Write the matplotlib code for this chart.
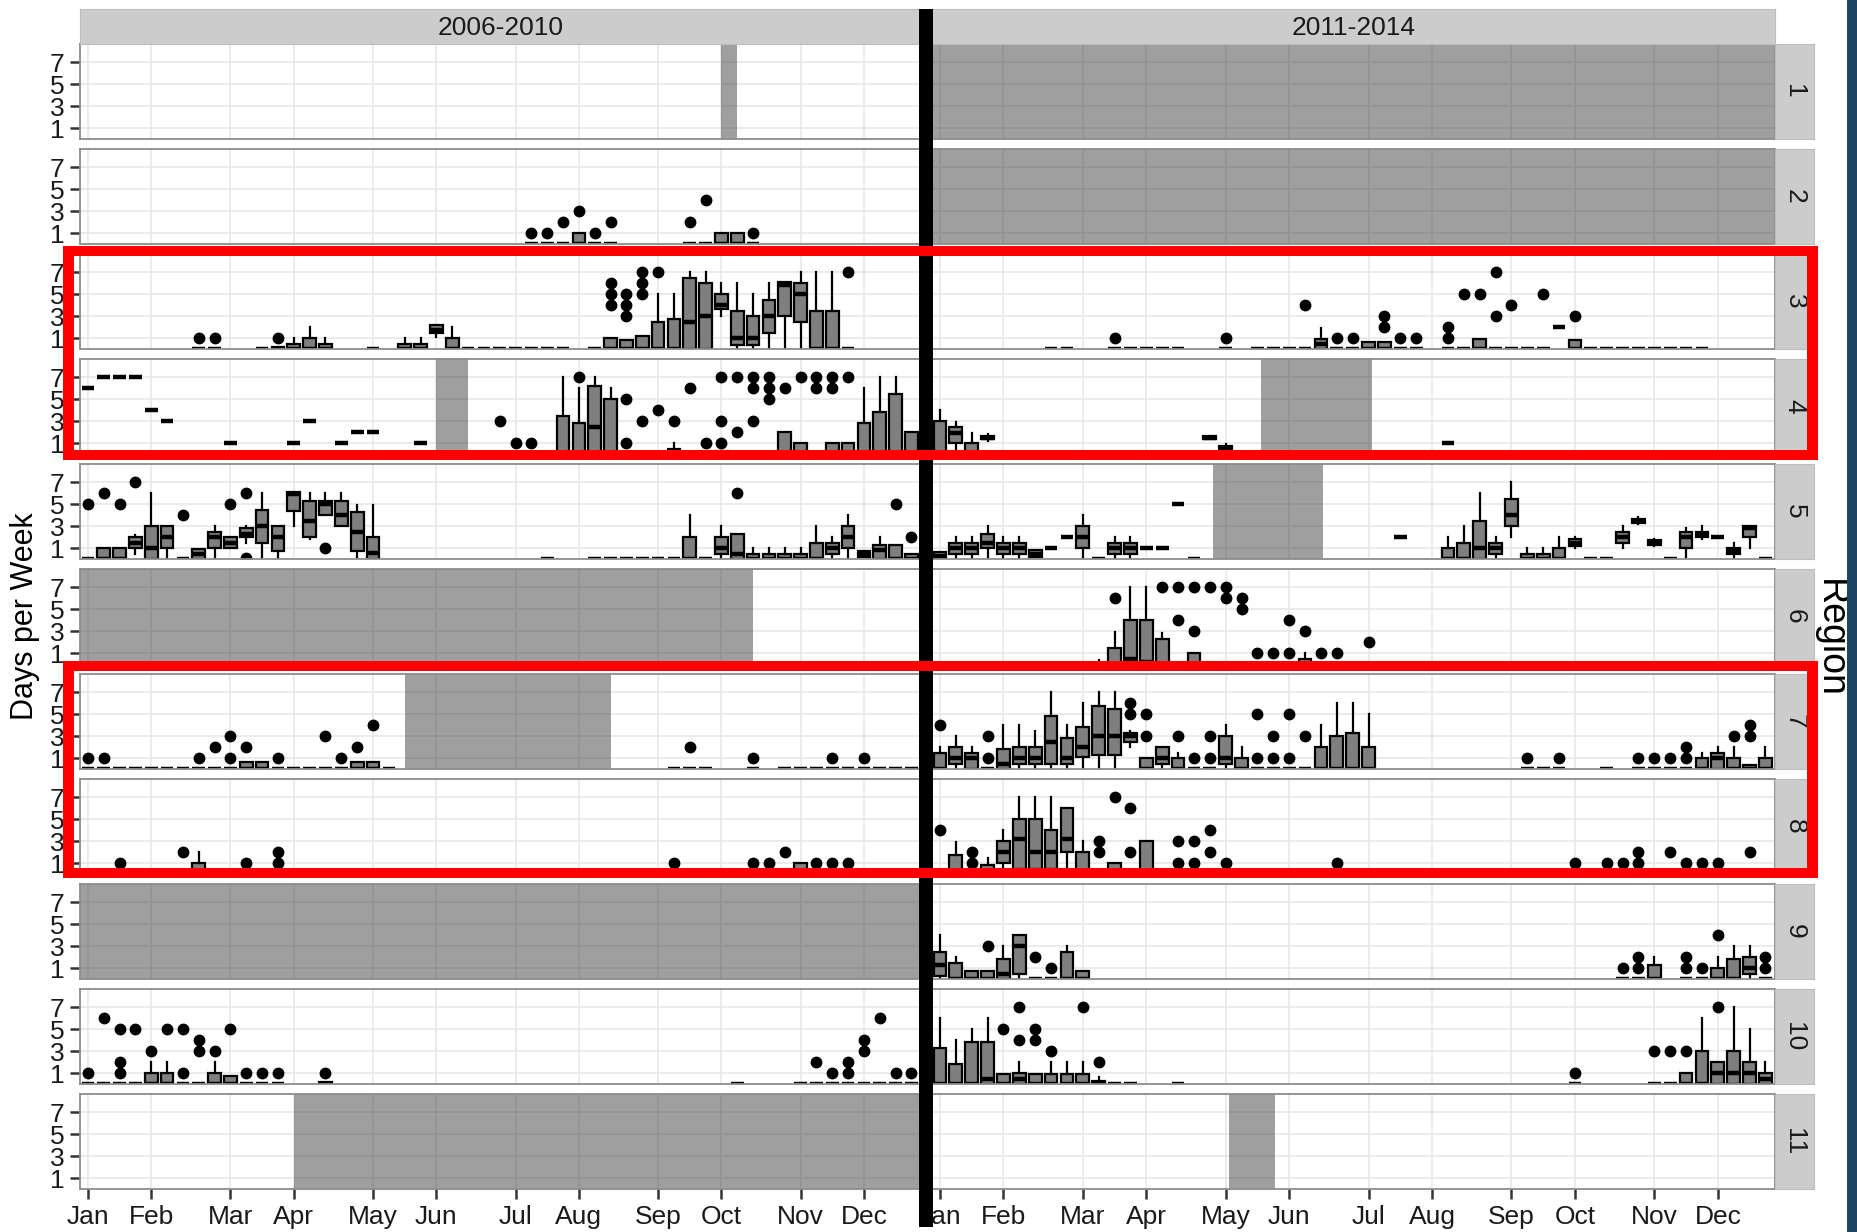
import matplotlib
matplotlib.use('Agg')
import matplotlib.pyplot as plt
from matplotlib.patches import Rectangle

plt.rcParams['font.family'] = ['Liberation Sans', 'DejaVu Sans']

periods = ['2006-2010', '2011-2014']
regions = list(range(1, 12))
month_labels = ['Jan', 'Feb', 'Mar', 'Apr', 'May', 'Jun',
                'Jul', 'Aug', 'Sep', 'Oct', 'Nov', 'Dec']
month_weeks = [1, 5, 10, 14, 19, 23, 28, 32, 37, 41, 46, 50]
day_ticks = [1, 3, 5, 7]

# weeks with no monitoring, shaded: (region, from week, to week)
gaps_early = [(1, 41, 42), (4, 23, 25), (6, 0.5, 43), (7, 21, 34),
              (9, 0.5, 53.6), (11, 14, 53.6)]
gaps_late = [(1, 0.5, 53.6), (2, 0.5, 53.6), (4, 21.2, 28.2),
             (5, 18.2, 25.1), (11, 19.2, 22.1)]

# weekly boxplot summaries: (week, low whisker, q1, median, q3, high whisker)
# weeks where every site reported 0 days are listed separately,
# outliers as (week, days)

# ---- 2006-2010 ----
early_r2_zero = [29, 30, 31, 33, 34, 39, 40, 43]
early_r2_box = [(32, 0, 0, 0, 1, 1), (41, 0, 0, 0, 1, 1), (42, 0, 0, 0, 1, 1)]
early_r2_out = [(29, 1), (30, 1), (31, 2), (32, 3), (33, 1), (34, 2),
                (39, 2), (40, 4), (43, 1)]

early_r3_zero = [8, 9, 12, 19, 25, 26, 27, 28, 29, 30, 31, 33, 49]
early_r3_box = [(13, 0, 0, 0, 0.2, 0.2), (14, 0, 0, 0, 0.5, 1), (15, 0, 0, 0, 1, 2),
                (16, 0, 0, 0, 0.5, 1), (21, 0, 0, 0, 0.5, 1), (22, 0, 0, 0, 0.5, 1),
                (23, 1.1, 1.5, 1.75, 2.2, 2.2), (24, 0, 0, 0, 1, 2),
                (34, 0, 0, 0, 1, 1), (35, 0, 0, 0, 0.8, 0.8), (36, 0, 0, 0, 1.2, 1.2),
                (37, 0, 0, 0, 2.5, 5), (38, 0, 0, 0, 2.7, 5), (39, 0, 0, 2.5, 6.5, 7),
                (40, 0, 0, 3, 6, 7), (41, 3, 3.6, 4, 5, 6), (42, 0, 0.4, 1, 3.5, 6),
                (43, 0, 0.4, 1, 3, 5), (44, 0, 1.5, 3, 4.5, 6), (45, 0, 3, 5.8, 6.1, 6.1),
                (46, 0, 2.5, 5, 6, 7), (47, 0, 0, 0, 3.5, 7), (48, 0, 0, 0, 3.5, 7)]
early_r3_out = [(8, 1), (9, 1), (13, 1), (34, 4), (34, 5), (34, 6), (35, 3), (35, 4),
                (35, 5), (36, 5), (36, 6), (36, 7), (37, 7), (49, 7)]

early_r4_zero = [27, 28, 29, 35, 36, 37, 39, 40, 42, 43, 44, 47]
early_r4_box = [(1, 6, 6, 6, 6, 6), (2, 7, 7, 7, 7, 7), (3, 7, 7, 7, 7, 7),
                (4, 7, 7, 7, 7, 7), (5, 4, 4, 4, 4, 4), (6, 3, 3, 3, 3, 3),
                (10, 1, 1, 1, 1, 1), (14, 1, 1, 1, 1, 1), (15, 3, 3, 3, 3, 3),
                (17, 1, 1, 1, 1, 1), (18, 2, 2, 2, 2, 2), (19, 2, 2, 2, 2, 2),
                (22, 1, 1, 1, 1, 1),
                (31, 0, 0, 0, 3.5, 7), (32, 0, 0, 0, 2.8, 6), (33, 0, 0, 2.5, 6.2, 7),
                (34, 0, 0, 0, 5, 6), (38, 0, 0, 0, 0.5, 1), (41, 0, 0, 0, 0.3, 0.3),
                (45, 0, 0, 0, 2, 2), (46, 0, 0, 0, 1, 1), (48, 0, 0, 0, 1, 1),
                (49, 0, 0, 0, 1, 1), (50, 0, 0, 0, 2.8, 6), (51, 0, 0, 0, 3.8, 7),
                (52, 0, 0, 0, 5.5, 7), (53, 0, 0, 0, 2, 2)]
early_r4_out = [(27, 3), (28, 1), (29, 1), (32, 7), (35, 5), (35, 1), (36, 3), (37, 4),
                (38, 3), (39, 6), (40, 1), (41, 7), (41, 3), (41, 1), (42, 7), (42, 2),
                (43, 7), (43, 6), (43, 3), (44, 7), (44, 6), (44, 5), (45, 6), (46, 7),
                (47, 7), (47, 6), (48, 7), (48, 6), (49, 7)]

early_r5_zero = [1, 7, 30, 33, 34, 35, 36, 37, 38, 40]
early_r5_box = [(2, 0, 0, 0, 1, 1), (3, 0, 0, 0, 1, 1), (4, 0.5, 1, 1.5, 2, 2.2),
                (5, 0, 0, 1, 3, 6), (6, 0, 1, 2, 3, 3), (8, 0, 0, 0.5, 0.9, 0.9),
                (9, 0, 1, 2, 2.5, 3), (10, 1, 1, 1.5, 2, 2), (11, 1.5, 2, 2.3, 2.8, 3),
                (12, 0, 1.5, 3, 4.5, 6), (13, 0, 0.7, 2, 3, 3), (14, 3, 4.4, 5.9, 6.1, 6.1),
                (15, 1.8, 2, 3.5, 5.3, 6), (16, 4, 4, 5, 5.3, 6), (17, 3, 3, 4, 5.3, 6),
                (18, 0, 0.7, 2.5, 4.3, 4.9), (19, 0, 0, 0.55, 2, 4.9),
                (39, 0, 0, 0, 2, 4), (41, 0, 0.5, 1, 2, 3), (42, 0, 0, 0.5, 2.3, 2.3),
                (43, 0, 0, 0, 0.5, 1), (44, 0, 0, 0, 0.5, 1), (45, 0, 0, 0, 0.5, 1),
                (46, 0, 0, 0, 0.5, 1), (47, 0, 0, 0, 1.5, 3), (48, 0, 0.5, 1, 1.5, 2),
                (49, 0, 1, 2, 3, 4), (50, 0.2, 0.2, 0.5, 0.7, 0.7), (51, 0, 0, 0.8, 1.3, 2),
                (52, 0, 0, 0, 1.3, 1.3), (53, 0, 0, 0, 0.5, 0.5)]
early_r5_out = [(1, 5), (2, 6), (3, 5), (4, 7), (7, 4), (10, 5), (11, 6), (11, 0.1),
                (16, 1), (42, 6), (52, 5), (53, 2)]

early_r7_zero = [1, 2, 3, 4, 5, 6, 7, 8, 9, 10, 13, 14, 15, 16, 17, 20, 38, 39, 40,
                 43, 45, 46, 47, 48, 49, 50, 51, 52, 53]
early_r7_box = [(11, 0, 0, 0, 0.6, 0.6), (12, 0, 0, 0, 0.6, 0.6),
                (18, 0, 0, 0, 0.6, 0.6), (19, 0, 0, 0, 0.6, 0.6)]
early_r7_out = [(1, 1), (2, 1), (8, 1), (9, 2), (10, 3), (10, 1), (11, 2), (13, 1),
                (16, 3), (17, 1), (18, 2), (19, 4), (39, 2), (43, 1), (48, 1), (50, 1)]

early_r8_zero = [3, 7, 11, 13, 38, 43, 44, 45, 47, 48, 49]
early_r8_box = [(8, 0, 0, 0, 1, 2), (46, 0, 0, 0, 1, 1)]
early_r8_out = [(3, 1), (7, 2), (11, 1), (13, 1), (13, 2), (38, 1), (43, 1), (44, 1),
                (45, 2), (47, 1), (48, 1), (49, 1)]

early_r10_zero = [1, 2, 3, 4, 7, 8, 11, 12, 13, 42, 46, 47, 48, 49, 50, 51, 52, 53]
early_r10_box = [(5, 0, 0, 0, 1, 2), (6, 0, 0, 0, 1, 2), (9, 0, 0, 0, 1, 2),
                 (10, 0, 0, 0, 0.7, 0.7), (16, 0, 0, 0, 0.2, 0.2)]
early_r10_out = [(1, 1), (2, 6), (3, 5), (3, 2), (3, 1), (4, 5), (5, 3), (6, 5), (7, 5),
                 (7, 1), (8, 4), (8, 3), (9, 3), (10, 5), (11, 1), (12, 1), (13, 1),
                 (16, 1), (47, 2), (48, 1), (49, 2), (49, 1), (50, 4), (50, 3), (51, 6),
                 (52, 1), (53, 1)]

# ---- 2011-2014 ----
late_r3_zero = [8, 9, 12, 13, 14, 15, 16, 19, 21, 22, 23, 24, 26, 27, 30, 31, 33,
                34, 36, 37, 38, 39, 42, 43, 44, 45, 46, 47, 48, 49]
late_r3_box = [(25, 0, 0, 0.5, 0.9, 1.9), (28, 0, 0, 0, 0.6, 0.6), (29, 0, 0, 0, 0.6, 0.6),
               (35, 0, 0, 0, 0.9, 0.9), (40, 2, 2, 2, 2, 2), (41, 0, 0, 0, 0.8, 0.8)]
late_r3_out = [(12, 1), (19, 1), (24, 4), (26, 1), (27, 1), (29, 2), (29, 3), (30, 1),
               (31, 1), (33, 1), (33, 2), (34, 5), (35, 5), (36, 7), (36, 3), (37, 4),
               (39, 5), (41, 3)]

late_r4_zero = []
late_r4_box = [(1, 0, 0, 0, 3, 4), (2, 0, 1, 1.9, 2.5, 2.9), (3, 0, 0, 0, 1, 1.9),
               (4, 1.2, 1.35, 1.5, 1.6, 1.8), (18, 1.4, 1.4, 1.5, 1.6, 1.6),
               (19, 0.3, 0.3, 0.5, 0.7, 0.9), (33, 1, 1, 1, 1, 1)]
late_r4_out = []

late_r5_zero = [11, 17, 42, 43, 47, 53]
late_r5_box = [(1, 0, 0, 0.3, 0.6, 0.6), (2, 0, 0.5, 1, 1.5, 2), (3, 0, 0.5, 1, 1.5, 2),
               (4, 0, 1, 1.5, 2.3, 3), (5, 0, 0.5, 1, 1.5, 2), (6, 0, 0.5, 1, 1.5, 2),
               (7, 0.2, 0.2, 0.5, 0.8, 0.8), (8, 1, 1, 1, 1, 1), (9, 2, 2, 2, 2, 2),
               (10, 0, 1, 2, 3, 4), (12, 0, 0.5, 1, 1.5, 2), (13, 0, 0.5, 1, 1.5, 2),
               (14, 1, 1, 1, 1, 1), (15, 1, 1, 1, 1, 1), (16, 5, 5, 5, 5, 5),
               (30, 2, 2, 2, 2, 2), (33, 0, 0, 0, 1, 2), (34, 0, 0, 0, 1.5, 3),
               (35, 0, 0, 1, 3.5, 6), (36, 0, 0.5, 1, 1.5, 2), (37, 2, 3, 4, 5.5, 7),
               (38, 0, 0, 0, 0.5, 1), (39, 0, 0, 0, 0.5, 1), (40, 0, 0, 0, 1, 2),
               (41, 1, 1.2, 1.5, 1.8, 2), (44, 1, 1.5, 2, 2.5, 3),
               (45, 3.2, 3.3, 3.5, 3.6, 3.8), (46, 1.2, 1.3, 1.5, 1.7, 1.8),
               (48, 0, 1, 2, 2.5, 2.8), (49, 1.8, 2, 2.2, 2.5, 3), (50, 2, 2, 2, 2, 2),
               (51, 0, 0.5, 0.7, 1, 1.5), (52, 1, 2, 2.8, 3, 3)]
late_r5_out = []

late_r6_zero = [16, 18, 19, 20, 21, 22, 23, 25, 26, 28]
late_r6_box = [(11, 0, 0, 0, 0, 0.4), (12, 0, 0, 0, 1.5, 2.9), (13, 0, 0, 0.5, 4, 7),
               (14, 0, 0, 0.2, 4, 7), (15, 0, 0, 0, 2.3, 2.8), (17, 0, 0, 0, 1, 1),
               (24, 0, 0, 0, 0.5, 1)]
late_r6_out = [(12, 6), (15, 7), (16, 7), (16, 4), (17, 7), (17, 3), (18, 7), (19, 7),
               (19, 6), (20, 6), (20, 5), (21, 1), (22, 1), (23, 1), (23, 4), (24, 3),
               (25, 1), (26, 1), (28, 2)]

late_r7_zero = [4, 17, 18, 21, 22, 23, 24, 38, 39, 40, 43, 45, 46, 47, 48]
late_r7_box = [(1, 0, 0, 0, 1.5, 2), (2, 0, 0.5, 1, 2, 3), (3, 0, 0, 1, 1.5, 2),
               (5, 0, 0, 0.5, 1.8, 4), (6, 0, 0.5, 1, 2, 4), (7, 0, 0.5, 1, 2, 3.5),
               (8, 0, 0.5, 2.5, 4.8, 7), (9, 0, 0.5, 1, 2.8, 4), (10, 0, 1.1, 2, 3.8, 6),
               (11, 0, 1.3, 3, 5.75, 7), (12, 0, 1.3, 3, 5.5, 7), (13, 2, 2.5, 3, 3.3, 3.5),
               (14, 0, 0, 0, 1, 1), (15, 0, 0.5, 1, 2, 2), (16, 0, 0, 0, 1, 1.5),
               (19, 0, 0.5, 1, 3, 4), (20, 0, 0, 0, 1, 2), (25, 0, 0, 0, 2, 4),
               (26, 0, 0, 0, 3, 6), (27, 0, 0, 0, 3.3, 6), (28, 0, 0, 0, 2, 5),
               (49, 0, 0, 0, 1, 1.5), (50, 0, 0, 1, 1.5, 2), (51, 0, 0, 0, 1, 2),
               (52, 0, 0, 0, 0.4, 0.4), (53, 0, 0, 0, 1, 2)]
late_r7_out = [(1, 4), (4, 1), (4, 3), (13, 6), (13, 5), (14, 5), (14, 3), (16, 3),
               (17, 1), (18, 3), (18, 1), (21, 5), (21, 1), (22, 3), (22, 1), (23, 5),
               (23, 1), (24, 3), (38, 1), (40, 1), (45, 1), (46, 1), (47, 1), (48, 2),
               (48, 1), (51, 3), (52, 3), (52, 4)]

late_r8_zero = [3, 11, 13, 16, 17, 18, 19, 26, 41, 43, 44, 47, 48, 49, 50, 52]
late_r8_box = [(2, 0, 0, 0, 1.7, 2.9), (4, 0, 0, 0, 0.8, 1.5), (5, 0, 1, 2, 3, 4),
               (6, 0, 0.5, 3.2, 5, 7), (7, 0, 0.5, 2, 5, 7), (8, 0, 0.5, 2, 4, 7),
               (9, 0, 2, 3.2, 6, 6), (10, 0, 0, 0, 2, 3), (12, 0, 0, 0, 1, 1),
               (14, 0, 0, 0, 3, 3), (45, 0, 0, 0, 0.2, 0.5)]
late_r8_out = [(1, 4), (3, 2), (3, 1), (11, 3), (11, 2), (12, 7), (13, 6), (13, 2),
               (16, 3), (16, 1), (17, 3), (17, 1), (18, 4), (18, 2), (19, 1), (26, 1),
               (41, 1), (43, 1), (44, 1), (45, 2), (45, 1), (47, 2), (48, 1), (49, 1),
               (50, 1), (52, 2)]

late_r9_zero = [7, 8, 44, 45, 48, 49, 53]
late_r9_box = [(1, 0, 0.3, 1.3, 2.5, 4), (2, 0, 0, 0, 1.5, 2), (3, 0, 0, 0, 0.7, 0.7),
               (4, 0, 0, 0, 0.7, 0.7), (5, 0, 0, 0.5, 1.8, 3), (6, 0, 0.5, 3, 4, 4),
               (9, 0, 0, 0, 2.5, 3), (10, 0, 0, 0, 0.7, 0.7), (46, 0, 0, 0, 1.3, 2),
               (50, 0, 0, 0, 1, 2), (51, 0, 0, 0, 1.8, 3), (52, 0, 0.5, 1, 2, 3)]
late_r9_out = [(4, 3), (7, 2), (8, 1), (44, 1), (45, 2), (45, 1), (48, 2), (48, 1),
               (49, 1), (50, 4), (53, 2), (53, 1)]

late_r10_zero = [12, 13, 16, 41, 46, 47]
late_r10_box = [(1, 0, 0, 0, 3.3, 6), (2, 0, 0, 0, 1.8, 4), (3, 0, 0, 0, 3.8, 5),
                (4, 0, 0, 0.5, 3.8, 6), (5, 0, 0, 0, 0.9, 0.9), (6, 0, 0, 0.5, 1, 2),
                (7, 0, 0, 0, 0.9, 0.9), (8, 0, 0, 0, 0.9, 2), (9, 0, 0, 0, 0.9, 2),
                (10, 0, 0, 0, 0.9, 2), (11, 0, 0, 0, 0.3, 0.6), (48, 0, 0, 0, 1, 1),
                (49, 0, 0, 0, 3, 6), (50, 0, 0, 1, 2, 2), (51, 0, 0, 1, 3, 7),
                (52, 0, 0, 1, 2, 5), (53, 0, 0, 0.5, 1, 2)]
late_r10_out = [(5, 5), (6, 7), (6, 4), (7, 5), (7, 4), (8, 3), (10, 7), (11, 2),
                (41, 1), (46, 3), (47, 3), (48, 3), (50, 7)]

panels = {
    ('2006-2010', 2): (early_r2_zero, early_r2_box, early_r2_out),
    ('2006-2010', 3): (early_r3_zero, early_r3_box, early_r3_out),
    ('2006-2010', 4): (early_r4_zero, early_r4_box, early_r4_out),
    ('2006-2010', 5): (early_r5_zero, early_r5_box, early_r5_out),
    ('2006-2010', 7): (early_r7_zero, early_r7_box, early_r7_out),
    ('2006-2010', 8): (early_r8_zero, early_r8_box, early_r8_out),
    ('2006-2010', 10): (early_r10_zero, early_r10_box, early_r10_out),
    ('2011-2014', 3): (late_r3_zero, late_r3_box, late_r3_out),
    ('2011-2014', 4): (late_r4_zero, late_r4_box, late_r4_out),
    ('2011-2014', 5): (late_r5_zero, late_r5_box, late_r5_out),
    ('2011-2014', 6): (late_r6_zero, late_r6_box, late_r6_out),
    ('2011-2014', 7): (late_r7_zero, late_r7_box, late_r7_out),
    ('2011-2014', 8): (late_r8_zero, late_r8_box, late_r8_out),
    ('2011-2014', 9): (late_r9_zero, late_r9_box, late_r9_out),
    ('2011-2014', 10): (late_r10_zero, late_r10_box, late_r10_out),
}
gaps = {'2006-2010': gaps_early, '2011-2014': gaps_late}


def build_stats(zero_weeks, boxes, outliers):
    stats = {}
    for w in zero_weeks:
        stats[w] = dict(whislo=0, q1=0, med=0, q3=0, whishi=0, fliers=[])
    for w, lo, q1, med, q3, hi in boxes:
        stats[w] = dict(whislo=lo, q1=q1, med=med, q3=q3, whishi=hi, fliers=[])
    for w, v in outliers:
        stats.setdefault(w, dict(whislo=0, q1=0, med=0, q3=0, whishi=0, fliers=[]))
        stats[w]['fliers'].append(v)
    weeks = sorted(stats)
    return weeks, [stats[w] for w in weeks]


# figure layout in pixels
W, H = 1858, 1232
fig = plt.figure(figsize=(W / 100, H / 100), dpi=100)
fig.patch.set_facecolor('white')


def px_box(x0, y0, x1, y1):
    return [x0 / W, 1 - y1 / H, (x1 - x0) / W, (y1 - y0) / H]


col_x = [(80, 921), (932, 1775)]
row_top = [44 + 105 * i for i in range(len(regions))]
panel_h = 94.5
strip_color = '#cccccc'
border_color = '#8c8c8c'
text_color = '#1a1a1a'
label_size = 19

for c, period in enumerate(periods):
    x0, x1 = col_x[c]
    for r, region in enumerate(regions):
        top = row_top[r]
        ax = fig.add_axes(px_box(x0, top, x1, top + panel_h))
        ax.set_facecolor('white')
        ax.set_xlim(0.5, 53.6)
        ax.set_ylim(0.05, 8.65)
        ax.set_xticks(month_weeks)
        ax.set_yticks(day_ticks)
        ax.grid(True, color='#e6e6e6', linewidth=1.1, zorder=0)
        ax.set_axisbelow(True)
        for s in ax.spines.values():
            s.set_color(border_color)
            s.set_linewidth(1.3)

        for reg, a, b in gaps[period]:
            if reg == region:
                ax.axvspan(a, b, facecolor='#404040', alpha=0.5, lw=0, zorder=1)

        if (period, region) in panels:
            weeks, stats = build_stats(*panels[(period, region)])
            ax.bxp(stats, positions=weeks, widths=0.8, patch_artist=True,
                   showcaps=False, manage_ticks=False, zorder=2,
                   boxprops=dict(facecolor='#7f7f7f', edgecolor='black', linewidth=1.6),
                   whiskerprops=dict(color='black', linewidth=1.6),
                   medianprops=dict(color='black', linewidth=3.2),
                   flierprops=dict(marker='o', markerfacecolor='black',
                                   markeredgecolor='black', markersize=7.5))

        # shared axes: y labels on the left column, month labels on the bottom row
        if c == 0:
            ax.tick_params(axis='y', length=7, width=1.8, color='#333333',
                           labelsize=label_size, pad=4, labelcolor=text_color)
        else:
            ax.tick_params(axis='y', length=0, labelleft=False)
        if r == len(regions) - 1:
            ax.set_xticklabels(month_labels)
            ax.tick_params(axis='x', length=7, width=1.8, color='#333333',
                           labelsize=label_size, pad=5, labelcolor=text_color)
        else:
            ax.tick_params(axis='x', length=0, labelbottom=False)

        # region strip on the right side
        if c == 1:
            sax = fig.add_axes(px_box(1775, top, 1814, top + panel_h))
            sax.set_facecolor(strip_color)
            sax.set_xticks([])
            sax.set_yticks([])
            for s in sax.spines.values():
                s.set_color('#bdbdbd')
            sax.text(0.5, 0.5, str(region), rotation=-90, ha='center', va='center',
                     fontsize=label_size, color=text_color, transform=sax.transAxes)

    # period strip on top
    tax = fig.add_axes(px_box(x0, 9, x1, 44))
    tax.set_facecolor(strip_color)
    tax.set_xticks([])
    tax.set_yticks([])
    for s in tax.spines.values():
        s.set_color('#bdbdbd')
    tax.text(0.5, 0.45, period, ha='center', va='center', fontsize=label_size,
             color=text_color, transform=tax.transAxes)

fig.text(25 / W, 1 - 616 / H, 'Days per Week', rotation=90, ha='center',
         va='center', fontsize=22)
fig.text(1830 / W, 1 - 638 / H, 'Region', rotation=-90, ha='center',
         va='center', fontsize=27)


def band(x0, y0, x1, y1, color):
    fig.add_artist(Rectangle((x0 / W, 1 - y1 / H), (x1 - x0) / W, (y1 - y0) / H,
                             transform=fig.transFigure, facecolor=color,
                             edgecolor='none', zorder=10))


# period divider
band(919, 9, 933, 1227, 'black')

# highlight frames around regions 3-4 and 7-8
for top, bottom in [(246, 460), (661, 878)]:
    band(63, top, 1818, top + 10, '#ff0000')
    band(63, bottom - 10, 1818, bottom, '#ff0000')
    band(63, top, 74, bottom, '#ff0000')
    band(1807, top, 1818, bottom, '#ff0000')

# dark edge on the right
band(1847, 0, 1858, H, '#1b4560')

fig.savefig('out.png', dpi=100)
